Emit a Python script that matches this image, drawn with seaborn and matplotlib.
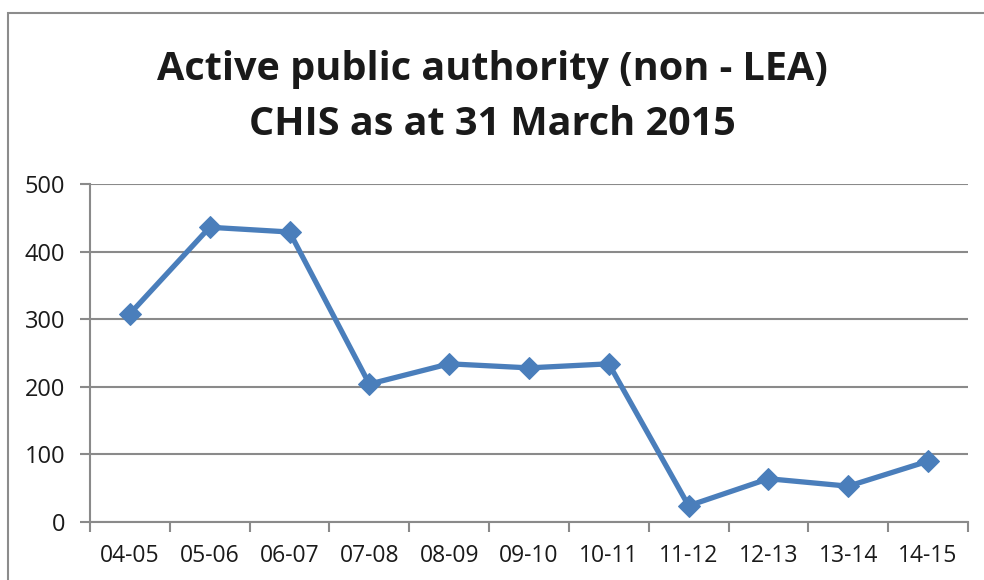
import matplotlib
matplotlib.use("Agg")
import matplotlib.pyplot as plt
import seaborn as sns
import pandas as pd
import numpy as np
from matplotlib.patches import Rectangle

years = ["04-05", "05-06", "06-07", "07-08", "08-09", "09-10", "10-11",
         "11-12", "12-13", "13-14", "14-15"]
values = [308, 436, 429, 204, 234, 228, 234, 24, 64, 53, 90]
title = "Active public authority (non - LEA)\nCHIS as at 31 March 2015"

sns.set_theme(style="white")
plt.rcParams['font.family'] = ['Open Sans', 'DejaVu Sans']

fig = plt.figure(figsize=(9.84, 5.8), dpi=100)
fig.patches.append(Rectangle((8/984, -0.1), 1.2, 1 - 13/580 + 0.1,
                             transform=fig.transFigure, fill=False,
                             edgecolor="#8c8c8c", linewidth=1.5))
ax = fig.add_axes([90/984, 1 - 522/580, (968 - 90)/984, (522 - 184)/580])

df = pd.DataFrame({"year": years, "value": values})
df["pos"] = np.arange(len(years))
sns.lineplot(data=df, x="pos", y="value", ax=ax, color="#4a7ebb",
             linewidth=3.8, marker="D", markersize=11,
             markeredgecolor="#4a7ebb")

ax.set_xlim(-0.5, len(years) - 0.5)
ax.set_ylim(0, 500)
ax.set_yticks(range(0, 501, 100))
ax.set_xticks(df["pos"])
ax.set_xticklabels(years)
ax.set_xticks(np.arange(-0.5, len(years), 1.0), minor=True)
ax.set_xlabel("")
ax.set_ylabel("")
ax.grid(axis="y", color="#8a8a8a", linewidth=1.5)
ax.set_axisbelow(True)
for s in ["top", "right"]:
    ax.spines[s].set_visible(False)
for s in ["left", "bottom"]:
    ax.spines[s].set_color("#8a8a8a")
    ax.spines[s].set_linewidth(1.5)
ax.tick_params(axis="x", which="major", length=0, pad=16, labelsize=16.5,
               labelcolor="#1a1a1a")
ax.tick_params(axis="x", which="minor", length=7, width=1.5, color="#8a8a8a",
               direction="out")
ax.tick_params(axis="y", which="major", length=7, width=1.5, color="#8a8a8a",
               direction="out", pad=11, labelsize=17, labelcolor="#1a1a1a")
ax.xaxis.set_ticks_position("bottom")
ax.yaxis.set_ticks_position("left")

fig.text(0.5, 1 - 97/580, title, ha="center", va="center",
         fontsize=28.5, fontweight="bold", color="#1a1a1a", linespacing=1.55)

fig.savefig("out.png", dpi=100)
